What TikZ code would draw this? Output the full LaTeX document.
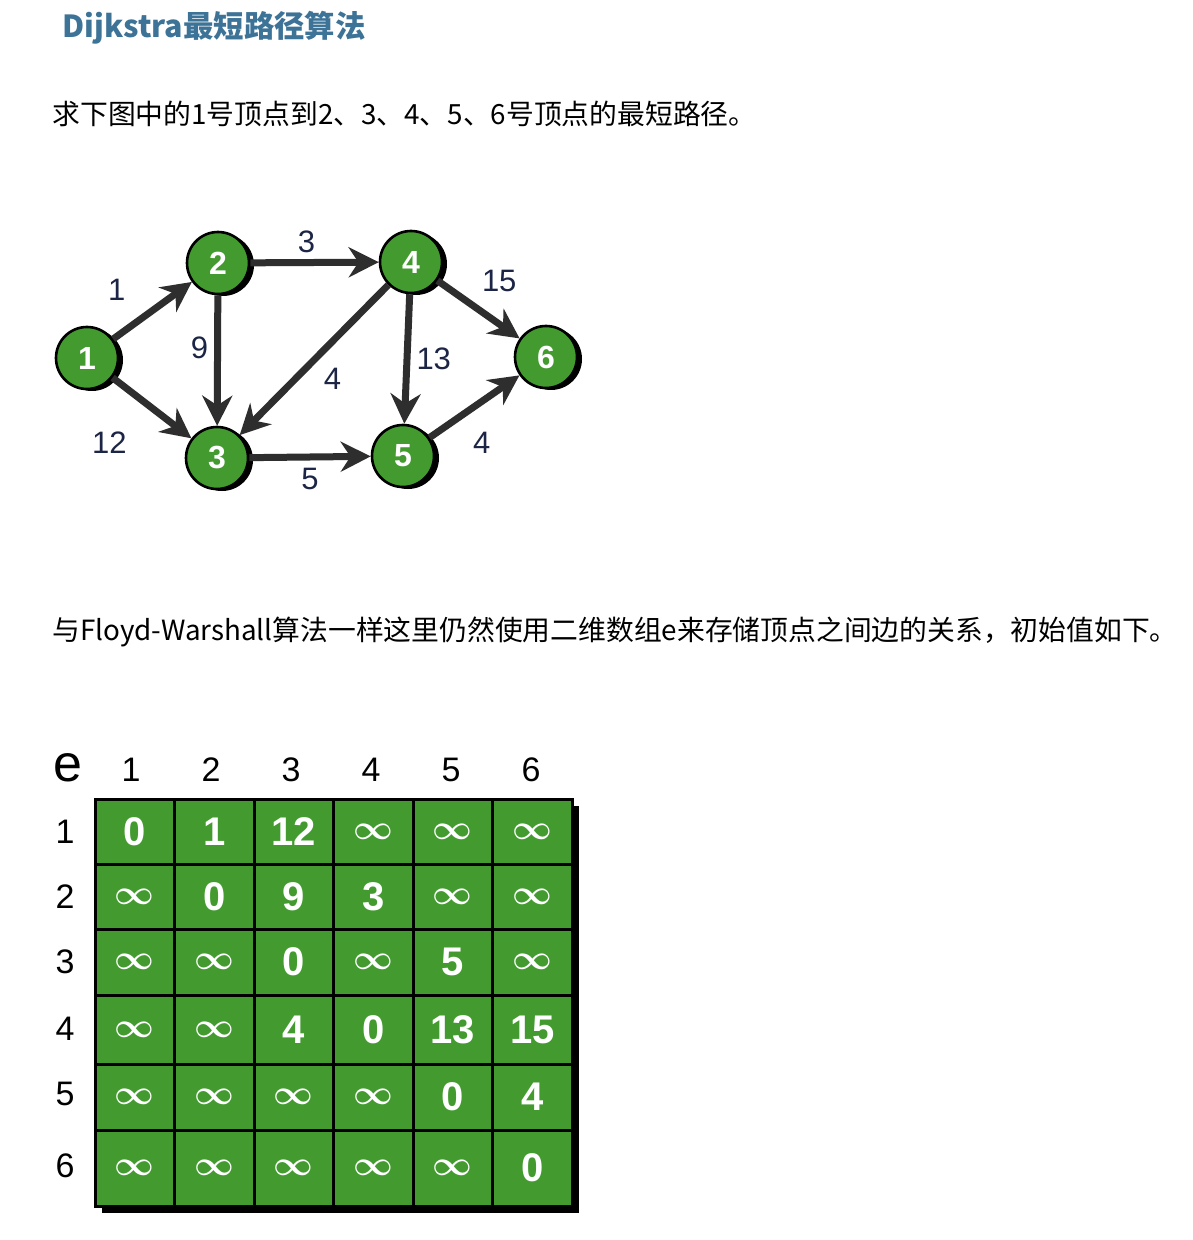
\documentclass[tikz,border=0pt]{standalone}
\usepackage{fontspec}
\setmainfont{Liberation Sans}
\newfontfamily\cjk{Noto Sans CJK SC}
\usetikzlibrary{arrows.meta,shadows}
\definecolor{nodegreen}{HTML}{439B30}
\definecolor{titleblue}{HTML}{3D7397}
\definecolor{weightnavy}{HTML}{1C2545}
\definecolor{edgegray}{HTML}{2E2E2E}
\newcommand{\infcell}{{\fontsize{18}{18}\selectfont\boldmath$\infty$}}
\tikzset{
  vertex/.style={circle, fill=nodegreen, draw=black, line width=1.3pt,
    minimum size=31pt, inner sep=0pt, text=white,
    font=\fontsize{16}{16}\selectfont\bfseries,
    drop shadow={shadow xshift=2.5pt, shadow yshift=-1pt, fill=black, opacity=1}},
  weight/.style={text=weightnavy, font=\fontsize{15.5}{15.5}\selectfont, inner sep=3pt},
  arc/.style={-{Stealth[length=15pt,width=15pt]}, line width=3.5pt, draw=edgegray},
  cell/.style={rectangle, fill=nodegreen, draw=black, line width=1.5pt,
    minimum width=39.75pt, inner sep=0pt, text=white,
    font=\fontsize{20}{20}\selectfont\bfseries},
  head/.style={font=\fontsize{17}{17}\selectfont, inner sep=0pt},
  para/.style={anchor=west, inner sep=0pt, font=\cjk\fontsize{13.9}{16}\selectfont}
}
\begin{document}
\begin{tikzpicture}[x=0.5pt,y=-0.5pt]
  \useasboundingbox[fill=white] (0,0) rectangle (1192,1240);
  % text
  \node[anchor=west, inner sep=0pt, text=titleblue,
    font=\cjk\fontsize{15.2}{18}\selectfont\bfseries] (title) at (62,28) {Dijkstra最短路径算法};
  \node[para] (ask) at (52,114) {求下图中的1号顶点到2、3、4、5、6号顶点的最短路径。};
  \node[para] (note) at (52,632) {与Floyd-Warshall算法一样这里仍然使用二维数组e来存储顶点之间边的关系，初始值如下。};
  % graph
  \draw[every node/.style={vertex}]
    (87,358) node (1){1}
    (218,263) node (2){2}
    (217,458) node (3){3}
    (411,262) node (4){4}
    (403,456) node (5){5}
    (546,357) node (6){6};
  \begin{scope}[every path/.style={arc}]
    \draw (1) to node[weight, pos=0.3, above left, xshift=-1pt, yshift=6pt]{1} (2);
    \draw (1) to node[weight, pos=0.4, below left, xshift=-4pt, yshift=-10pt]{12} (3);
    \draw (2) to node[weight, above, xshift=-4pt]{3} (4);
    \draw (2) to node[weight, pos=0.4, left]{9} (3);
    \draw (4) to node[weight, pos=0.45, below right, xshift=-3.5pt, yshift=-3pt]{4} (3);
    \draw (4) to node[weight, right]{13} (5);
    \draw (4) to node[weight, pos=0.5, above right, xshift=-3pt, yshift=4pt]{15} (6);
    \draw (3) to node[weight, below, yshift=-1pt]{5} (5);
    \draw (5) to node[weight, pos=0.4, below right, xshift=-1pt, yshift=-5pt]{4} (6);
  \end{scope}
  % table
  \node[font=\fontsize{26}{26}\selectfont, inner sep=0pt] (e) at (68,768) {e};
  \draw[every node/.style={head}]
    (131,770) node (c1){1}
    (211,770) node (c2){2}
    (291,770) node (c3){3}
    (371,770) node (c4){4}
    (451,770) node (c5){5}
    (531,770) node (c6){6}
    (65,832) node (r1){1}
    (65,897) node (r2){2}
    (65,962) node (r3){3}
    (65,1029) node (r4){4}
    (65,1094) node (r5){5}
    (65,1166) node (r6){6};
  \fill[black] (102,806) rectangle (579,1213);
  \path[every node/.style={cell, minimum height=32.5pt}]
    (134.75,831.5) node (e11){0}
    (214.25,831.5) node (e12){1}
    (293.75,831.5) node (e13){12}
    (373.25,831.5) node (e14){\infcell}
    (452.75,831.5) node (e15){\infcell}
    (532.25,831.5) node (e16){\infcell};
  \path[every node/.style={cell, minimum height=32.5pt}]
    (134.75,896.5) node (e21){\infcell}
    (214.25,896.5) node (e22){0}
    (293.75,896.5) node (e23){9}
    (373.25,896.5) node (e24){3}
    (452.75,896.5) node (e25){\infcell}
    (532.25,896.5) node (e26){\infcell};
  \path[every node/.style={cell, minimum height=33pt}]
    (134.75,962) node (e31){\infcell}
    (214.25,962) node (e32){\infcell}
    (293.75,962) node (e33){0}
    (373.25,962) node (e34){\infcell}
    (452.75,962) node (e35){5}
    (532.25,962) node (e36){\infcell};
  \path[every node/.style={cell, minimum height=34.5pt}]
    (134.75,1029.5) node (e41){\infcell}
    (214.25,1029.5) node (e42){\infcell}
    (293.75,1029.5) node (e43){4}
    (373.25,1029.5) node (e44){0}
    (452.75,1029.5) node (e45){13}
    (532.25,1029.5) node (e46){15};
  \path[every node/.style={cell, minimum height=33pt}]
    (134.75,1097) node (e51){\infcell}
    (214.25,1097) node (e52){\infcell}
    (293.75,1097) node (e53){\infcell}
    (373.25,1097) node (e54){\infcell}
    (452.75,1097) node (e55){0}
    (532.25,1097) node (e56){4};
  \path[every node/.style={cell, minimum height=38pt}]
    (134.75,1168) node (e61){\infcell}
    (214.25,1168) node (e62){\infcell}
    (293.75,1168) node (e63){\infcell}
    (373.25,1168) node (e64){\infcell}
    (452.75,1168) node (e65){\infcell}
    (532.25,1168) node (e66){0};
\end{tikzpicture}
\end{document}
